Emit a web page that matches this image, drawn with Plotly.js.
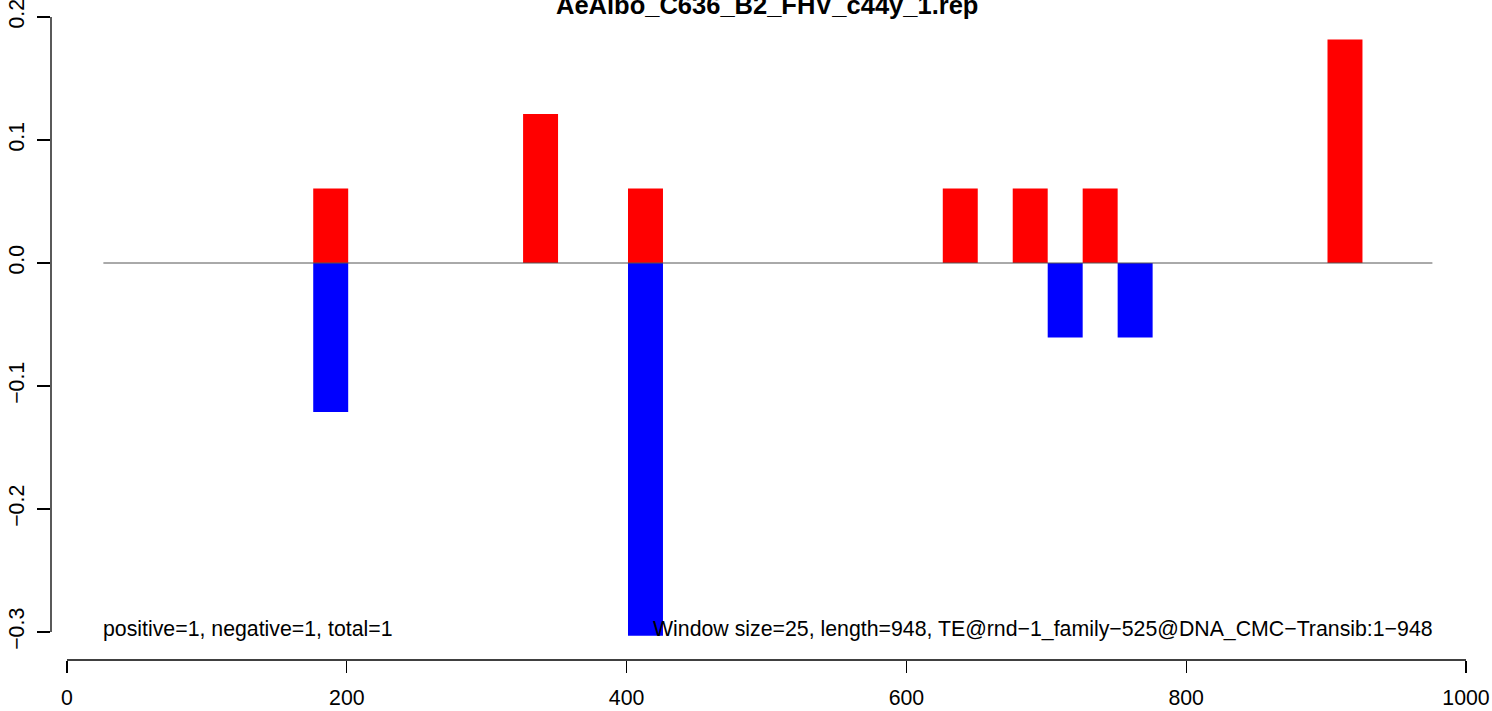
<!DOCTYPE html>
<html>
<head>
<meta charset="utf-8">
<script src="https://cdn.plot.ly/plotly-3.0.1.min.js"></script>
<style>html,body{margin:0;padding:0;background:#fff;}#chart{width:1492px;height:711px;}</style>
</head>
<body>
<div id="chart"></div>
<script>
// ---- data ----
const chartTitle = "AeAlbo_C636_B2_FHV_c44y_1.rep";
const windowSize = 25;
const posStarts = [176, 326, 401, 626, 676, 726, 901];
const posValues = [0.0606, 0.1212, 0.0606, 0.0606, 0.0606, 0.0606, 0.1818];
const negStarts = [176, 401, 701, 751];
const negValues = [-0.1212, -0.303, -0.0606, -0.0606];
const baselineX = [26, 976];
const baselineY = [0, 0];
const xTicks = [0, 200, 400, 600, 800, 1000];
const yTicks = [-0.3, -0.2, -0.1, 0.0, 0.1, 0.2];
const yTickText = ["\u22120.3", "\u22120.2", "\u22120.1", "0.0", "0.1", "0.2"];
const leftNote = "positive=1, negative=1, total=1";
const rightNote = "Window size=25, length=948, TE@rnd\u22121_family\u2212525@DNA_CMC\u2212Transib:1\u2212948";

const font = "Liberation Sans, Arial, Helvetica, sans-serif";

const traces = [
  {type: "bar", x: posStarts, y: posValues, width: windowSize, offset: 0,
   marker: {color: "#ff0000", line: {width: 0}}, hoverinfo: "x+y"},
  {type: "bar", x: negStarts, y: negValues, width: windowSize, offset: 0,
   marker: {color: "#0000ff", line: {width: 0}}, hoverinfo: "x+y"},
  {type: "scatter", mode: "lines", x: baselineX, y: baselineY,
   line: {color: "#555555", width: 1}, hoverinfo: "skip"}
];

const layout = {
  width: 1492, height: 711,
  margin: {l: 51, r: 26, t: 17, b: 51, pad: 0},
  paper_bgcolor: "#ffffff", plot_bgcolor: "#ffffff",
  showlegend: false,
  barmode: "overlay",
  font: {family: font, size: 21, color: "#000"},
  xaxis: {
    range: [-11.44, 1000], showgrid: false, zeroline: false, showline: false,
    tickmode: "array", tickvals: xTicks, ticktext: xTicks.map(String),
    ticks: "outside", ticklen: 12, tickwidth: 1.3, tickcolor: "#000",
    ticklabelstandoff: 6, ticklabeloverflow: "allow",
    tickfont: {family: font, size: 21.3, color: "#000"}
  },
  yaxis: {
    range: [-0.32276, 0.2], showgrid: false, zeroline: false, showline: false,
    tickmode: "array", tickvals: yTicks, ticktext: yTickText,
    ticks: "outside", ticklen: 13, tickwidth: 1.3, tickcolor: "#000",
    tickangle: -90, ticklabelstandoff: 4, ticklabeloverflow: "allow",
    tickfont: {family: font, size: 21.3, color: "#000"}
  },
  shapes: [
    {type: "line", xref: "paper", yref: "y", x0: 0, x1: 0, y0: -0.3, y1: 0.2,
     line: {color: "#000", width: 1.3}},
    {type: "line", xref: "x", yref: "paper", x0: 0, x1: 1000, y0: 0, y1: 0,
     line: {color: "#000", width: 1.3}}
  ],
  annotations: [
    {text: "<b>" + chartTitle + "</b>", xref: "x", yref: "paper", x: 500, y: 0.9938,
     xanchor: "center", yanchor: "bottom", showarrow: false,
     font: {family: font, size: 25.5, color: "#000"}},
    {text: leftNote, xref: "x", yref: "y", x: 24.5, y: -0.2975,
     xanchor: "left", yanchor: "middle", showarrow: false,
     font: {family: font, size: 21.3, color: "#000"}},
    {text: rightNote, xref: "x", yref: "y", x: 977.5, y: -0.2975,
     xanchor: "right", yanchor: "middle", showarrow: false,
     font: {family: font, size: 21.3, color: "#000"}}
  ]
};

Plotly.newPlot("chart", traces, layout, {displayModeBar: false, staticPlot: true});
</script>
</body>
</html>
